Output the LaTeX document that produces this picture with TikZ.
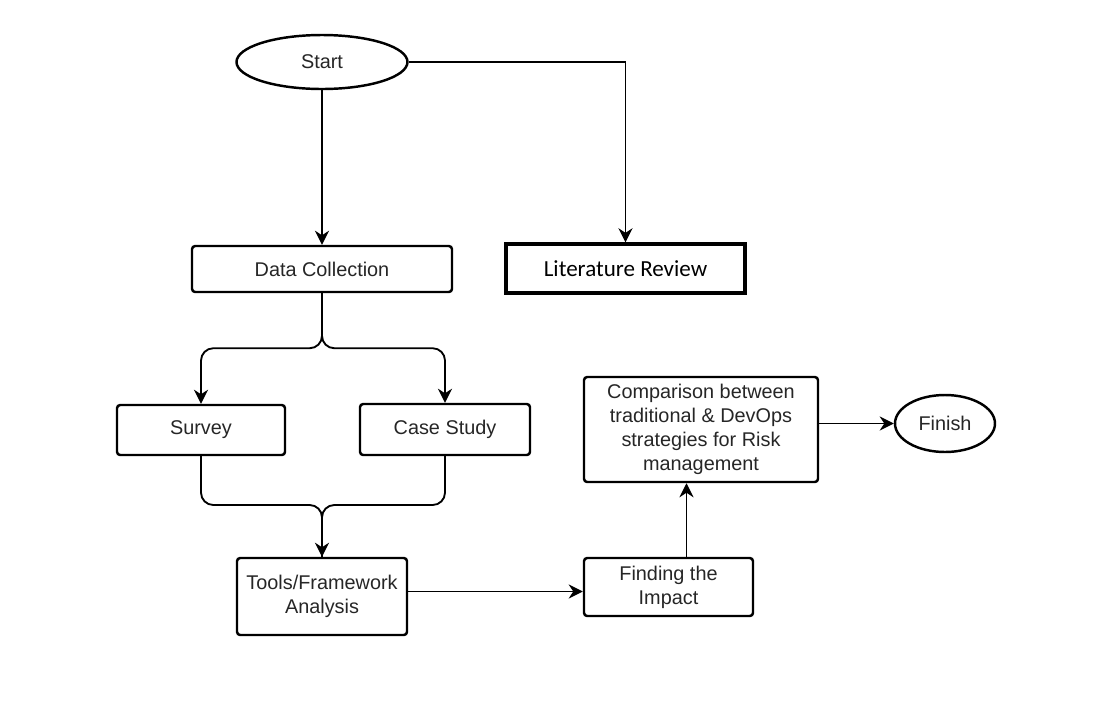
\documentclass[tikz,border=0pt]{standalone}
\usepackage{fontspec}
\setmainfont{Liberation Sans}
\newfontfamily\calibrifont{Carlito}
\usepackage{tikz}
\usetikzlibrary{arrows.meta,shapes.geometric,calc}

\begin{document}
\begin{tikzpicture}[
box/.style={draw, line width=1.4pt, rounded corners=1.8pt, inner sep=0pt, align=center,
  text=black!85, font=\fontsize{11.3}{13.7}\selectfont},
litbox/.style={draw, line width=1.9pt, inner sep=0pt, font=\calibrifont\fontsize{13.1}{15}\selectfont},
oval/.style={draw, ellipse, line width=1.4pt, inner sep=0pt, text=black!85,
  font=\fontsize{11.3}{13.7}\selectfont},
conn/.style={line width=1.05pt, -{Stealth[length=8pt,width=8pt]}},
curved/.style={conn, rounded corners=7pt}]
\useasboundingbox (0,0) rectangle (22.1,-14.02);
\node[oval, minimum width=3.42cm, minimum height=1.08cm] (start) at (6.44,-1.24) {Start};
\node[box, minimum width=5.2cm, minimum height=0.92cm] (dc) at (6.44,-5.38) {Data Collection};
\node[litbox, minimum width=4.78cm, minimum height=0.98cm] (lit) at (12.51,-5.37) {Literature Review};
\node[box, minimum width=3.36cm, minimum height=1.0cm] (survey) at (4.02,-8.6) {Survey};
\node[box, minimum width=3.4cm, minimum height=1.02cm] (case) at (8.9,-8.59) {Case Study};
\node[box, minimum width=3.4cm, minimum height=1.54cm] (tools) at (6.44,-11.93) {Tools/Framework\\Analysis};
\node[box, minimum width=3.38cm, minimum height=1.16cm] (find) at (13.37,-11.74) {Finding the\\Impact};
\node[box, minimum width=4.68cm, minimum height=2.1cm] (cmp) at (14.02,-8.59)
  {Comparison between\\traditional \& DevOps\\strategies for Risk\\management};
\node[oval, minimum width=2.0cm, minimum height=1.14cm] (fin) at (18.9,-8.47) {Finish};
\coordinate (mrg) at (6.44,-10.1);
% connectors
\draw[conn] (start.south) -- (dc.north);
\draw[conn] (start.east) -| (lit.north);
\draw[curved] (dc.south) -- ++(0,-1.1) -| (survey.north);
\draw[curved] (dc.south) -- ++(0,-1.1) -| (case.north);
\draw[rounded corners=7pt, line width=1.05pt] (survey.south) |- (mrg) -- (tools.north);
\draw[curved] (case.south) |- (mrg) -- (tools.north);
\draw[conn] ([yshift=0.1cm]tools.east) -- ([yshift=0.1cm]tools.east -| find.west);
\draw[conn] ([xshift=0.36cm]find.north) -- ([xshift=0.36cm]find.north |- cmp.south);
\draw[conn] (cmp.east |- fin.west) -- (fin.west);
\end{tikzpicture}
\end{document}
